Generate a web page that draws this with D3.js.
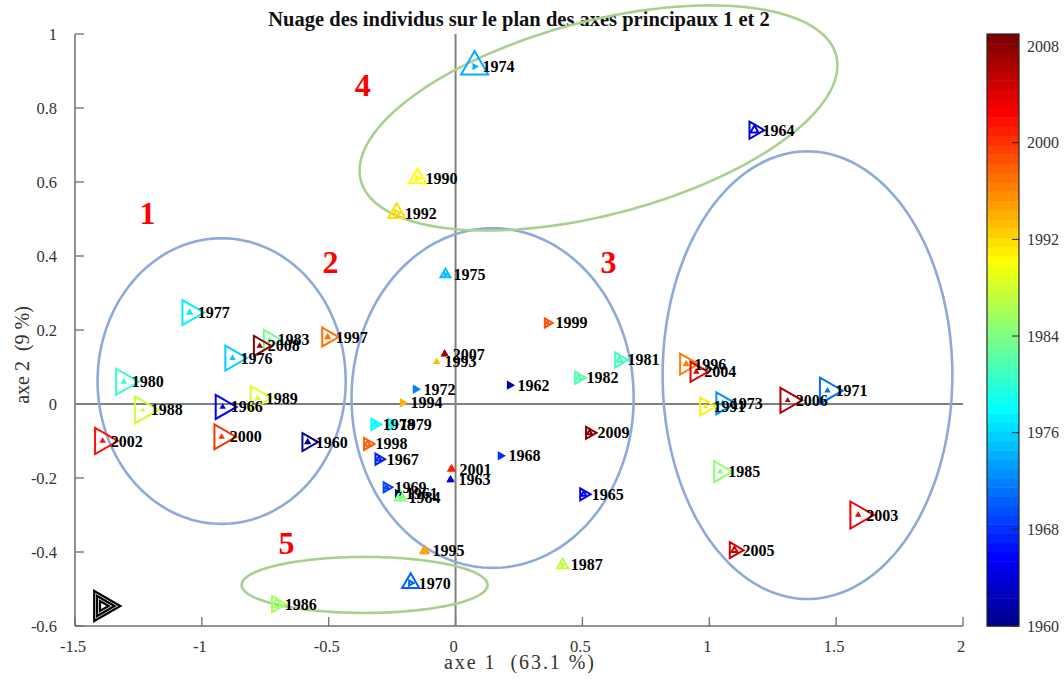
<!DOCTYPE html>
<html><head><meta charset="utf-8">
<script src="https://cdn.jsdelivr.net/npm/d3@7"></script>
<style>body{margin:0;background:#fff}svg{display:block}</style>
</head><body><svg id="c" width="1064" height="679"></svg>
<script>
// ---------- data ----------
const years = [1960,1961,1962,1963,1964,1965,1966,1967,1968,1969,
               1970,1971,1972,1973,1974,1975,1976,1977,1978,1979,
               1980,1981,1982,1983,1984,1985,1986,1987,1988,1989,
               1990,1991,1992,1993,1994,1995,1996,1997,1998,1999,
               2000,2001,2002,2003,2004,2005,2006,2007,2008,2009];
const axis1 = [-0.583,-0.228,0.213,-0.020,1.178,0.505,-0.918,-0.303,0.177,-0.272,
               -0.177,1.466,-0.158,1.053,0.075,-0.040,-0.879,-1.048,-0.319,-0.252,
               -1.308,0.646,0.485,-0.733,-0.217,1.043,-0.705,0.422,-1.233,-0.780,
               -0.150,0.985,-0.232,-0.075,-0.209,-0.122,0.909,-0.504,-0.347,0.362,
               -0.922,-0.016,-1.391,1.587,0.949,1.099,1.309,-0.043,-0.772,0.528];
const axis2 = [-0.103,-0.242,0.051,-0.205,0.740,-0.244,-0.008,-0.149,-0.140,-0.225,
               -0.484,0.036,0.040,0.002,0.912,0.350,0.124,0.247,-0.055,-0.055,
               0.060,0.119,0.071,0.173,-0.252,-0.183,-0.541,-0.435,-0.016,0.016,
               0.610,-0.007,0.516,0.114,0.003,-0.397,0.108,0.181,-0.108,0.219,
               -0.089,-0.176,-0.100,-0.300,0.087,-0.395,0.010,0.135,0.157,-0.078];
// quality of representation on axis 1 (right triangle) and axis 2 (up triangle)
const quality1 = [0.60,0.20,0.20,0.07,0.57,0.40,0.80,0.37,0.20,0.33,
                  0.17,0.87,0.20,0.73,0.13,0.10,0.83,0.83,0.37,0.37,
                  0.87,0.50,0.40,0.67,0.13,0.70,0.53,0.13,0.90,0.80,
                  0.17,0.60,0.20,0.07,0.20,0.10,0.70,0.63,0.40,0.30,
                  0.83,0.10,0.87,0.90,0.67,0.53,0.83,0.07,0.67,0.40];
const quality2 = [0.13,0.10,0.07,0.17,0.27,0.17,0.10,0.17,0.07,0.13,
                  0.57,0.10,0.07,0.10,0.90,0.33,0.10,0.13,0.17,0.17,
                  0.10,0.20,0.17,0.10,0.37,0.10,0.33,0.37,0.07,0.10,
                  0.57,0.07,0.57,0.13,0.07,0.27,0.13,0.13,0.20,0.07,
                  0.10,0.20,0.10,0.10,0.10,0.20,0.07,0.17,0.10,0.17];
// size legend (nested black right triangles)
const legendQuality = [1.0, 0.67, 0.33];
const legendPos = [-1.39, -0.546];
// group annotations
const groupLabels = ["1","2","3","4","5"];
const groupX = [-1.214,-0.493,0.603,-0.366,-0.666];
const groupY = [0.516,0.384,0.384,0.862,-0.376];
// ellipses: centre + two conjugate semi-diameters (data units)
const ellCx = [-0.922,0.146,1.387,0.5634,-0.3586];
const ellCy = [0.062,0.016,0.078,0.773,-0.489];
const ellAx = [0.489,0.556,0.571,0.9417,0.4846];
const ellAy = [0,0,0,0.1422,0];
const ellBx = [0,0,0,0,0];
const ellBy = [0.386,0.459,0.605,0.269,0.0757];
const ellKind = ["blue","blue","blue","green","green"];
// ticks
const xTicks = [-1.5,-1,-0.5,0,0.5,1,1.5,2];
const yTicks = [-0.6,-0.4,-0.2,0,0.2,0.4,0.6,0.8,1];
const cbTicks = [1960,1968,1976,1984,1992,2000,2008];
const cbDomain = [1960, 2009];
const titleText = "Nuage des individus sur le plan des axes principaux 1 et 2";
const xLabel = "axe 1  (63.1 %)";
const yLabel = "axe 2  (9 %)";

// ---------- layout ----------
const plot = {left: 75, right: 963, top: 34, bottom: 626};
const serif = "'Times New Roman','Liberation Serif',serif";
const svg = d3.select("#c");

const x = d3.scaleLinear().domain([-1.5, 2]).range([plot.left, plot.right]);
const y = d3.scaleLinear().domain([-0.6, 1]).range([plot.bottom, plot.top]);
const sz = d3.scaleLinear().domain([0, 1]).range([0, 30]);

// jet(64) colormap
function jet64() {
  const m = 64, n = 16;
  const u = [];
  for (let i = 1; i <= n; i++) u.push(i / n);
  for (let i = 1; i <= n - 1; i++) u.push(1);
  for (let i = n; i >= 1; i--) u.push(i / n);
  const J = Array.from({length: m}, () => [0, 0, 0]);
  u.forEach((v, j) => {
    const g = 8 + j + 1, r = g + n, b = g - n;
    if (r >= 1 && r <= m) J[r - 1][0] = v;
    if (g >= 1 && g <= m) J[g - 1][1] = v;
    if (b >= 1 && b <= m) J[b - 1][2] = v;
  });
  return J.map(c => d3.rgb(c[0] * 255, c[1] * 255, c[2] * 255).formatHex());
}
const cmap = jet64();
const colorOf = v => {
  let i = Math.floor((v - cbDomain[0]) / (cbDomain[1] - cbDomain[0]) * 64);
  return cmap[Math.max(0, Math.min(63, i))];
};

// triangles centred on centroid
function triRight(b) {
  const h = 0.87 * b;
  return `M${-h/3},${-b/2}L${2*h/3},0L${-h/3},${b/2}Z`;
}
function triUp(b) {
  const h = 0.87 * b;
  return `M${-b/2},${h/3}L0,${-2*h/3}L${b/2},${h/3}Z`;
}
const fmt = d => d3.format("")(d).replace("\u2212", "-");

// ---------- axes ----------
const axG = svg.append("g");
const axisColor = "#6e6e6e";
axG.append("line").attr("x1", plot.left).attr("x2", plot.right)
  .attr("y1", plot.bottom).attr("y2", plot.bottom)
  .attr("stroke", axisColor).attr("stroke-width", 1.5);
axG.append("line").attr("x1", plot.left).attr("x2", plot.left)
  .attr("y1", plot.top).attr("y2", plot.bottom)
  .attr("stroke", axisColor).attr("stroke-width", 1.5);
axG.selectAll(".xt").data(xTicks).join("line")
  .attr("x1", d => x(d)).attr("x2", d => x(d))
  .attr("y1", plot.bottom).attr("y2", plot.bottom - 9)
  .attr("stroke", axisColor).attr("stroke-width", 1.3);
axG.selectAll(".yt").data(yTicks).join("line")
  .attr("y1", d => y(d)).attr("y2", d => y(d))
  .attr("x1", plot.left).attr("x2", plot.left + 9)
  .attr("stroke", axisColor).attr("stroke-width", 1.3);
axG.selectAll(".xl").data(xTicks).join("text")
  .attr("x", d => x(d) - 2).attr("y", plot.bottom + 20)
  .attr("text-anchor", "middle").attr("dominant-baseline", "central")
  .attr("font-family", serif).attr("font-size", 16.5).attr("fill", "#333")
  .text(fmt);
axG.selectAll(".yl").data(yTicks).join("text")
  .attr("x", plot.left - 18).attr("y", d => y(d))
  .attr("text-anchor", "end").attr("dominant-baseline", "central")
  .attr("font-family", serif).attr("font-size", 16.5).attr("fill", "#333")
  .text(fmt);

// crosshair
axG.append("line").attr("x1", x(0)).attr("x2", x(0))
  .attr("y1", plot.top).attr("y2", plot.bottom)
  .attr("stroke", "#808080").attr("stroke-width", 2);
axG.append("line").attr("x1", plot.left).attr("x2", plot.right)
  .attr("y1", y(0)).attr("y2", y(0))
  .attr("stroke", "#808080").attr("stroke-width", 2);

// labels
svg.append("text").attr("x", (plot.left + plot.right) / 2).attr("y", 19)
  .attr("text-anchor", "middle").attr("dominant-baseline", "central")
  .attr("font-family", serif).attr("font-size", 20.5).attr("font-weight", "bold")
  .attr("fill", "#111").text(titleText);
svg.append("text").attr("x", (plot.left + plot.right) / 2).attr("y", 662)
  .attr("text-anchor", "middle").attr("dominant-baseline", "central")
  .style("white-space", "pre")
  .attr("textLength", 150).attr("lengthAdjust", "spacing")
  .attr("font-family", serif).attr("font-size", 20).attr("fill", "#333")
  .text(xLabel);
svg.append("text").attr("transform", `translate(22,${(plot.top + plot.bottom) / 2 + 25}) rotate(-90)`)
  .attr("text-anchor", "middle").attr("dominant-baseline", "central")
  .style("white-space", "pre")
  .attr("font-family", serif).attr("font-size", 20).attr("fill", "#333")
  .text(yLabel);

// ---------- ellipses ----------
const ellColors = {blue: "#8eaadb", green: "#a9d18e"};
const lineGen = d3.line().curve(d3.curveLinearClosed);
const ellData = ellCx.map((c, i) => i);
svg.append("g").selectAll("path").data(ellData).join("path")
  .attr("d", i => {
    const pts = d3.range(0, 180).map(k => {
      const t = k / 180 * 2 * Math.PI;
      return [x(ellCx[i] + ellAx[i] * Math.cos(t) + ellBx[i] * Math.sin(t)),
              y(ellCy[i] + ellAy[i] * Math.cos(t) + ellBy[i] * Math.sin(t))];
    });
    return lineGen(pts);
  })
  .attr("fill", "none").attr("stroke", i => ellColors[ellKind[i]]).attr("stroke-width", 2.6);

// group numbers
svg.append("g").selectAll("text").data(groupLabels).join("text")
  .attr("x", (d, i) => x(groupX[i])).attr("y", (d, i) => y(groupY[i]))
  .attr("text-anchor", "middle").attr("dominant-baseline", "central")
  .attr("font-family", serif).attr("font-size", 32).attr("font-weight", "bold")
  .attr("fill", "#ff0000").text(d => d);

// ---------- markers ----------
const idx = years.map((d, i) => i);
const mk = svg.append("g");
mk.selectAll(".r").data(idx).join("path")
  .attr("transform", i => `translate(${x(axis1[i])},${y(axis2[i])})`)
  .attr("d", i => triRight(sz(quality1[i])))
  .attr("fill", "none").attr("stroke", i => colorOf(years[i])).attr("stroke-width", 2);
mk.selectAll(".u").data(idx).join("path").attr("class", "u")
  .attr("transform", i => `translate(${x(axis1[i])},${y(axis2[i])})`)
  .attr("d", i => triUp(sz(quality2[i])))
  .attr("fill", "none").attr("stroke", i => colorOf(years[i])).attr("stroke-width", 2);

// size legend
mk.append("g").selectAll("path").data(legendQuality).join("path")
  .attr("transform", `translate(${x(legendPos[0])},${y(legendPos[1])})`)
  .attr("d", d => triRight(sz(d)))
  .attr("fill", "none").attr("stroke", "#000").attr("stroke-width", 2.2);

// point labels
svg.append("g").selectAll("text").data(idx).join("text")
  .attr("x", i => x(axis1[i]) + 8).attr("y", i => y(axis2[i]))
  .attr("dominant-baseline", "central")
  .attr("font-family", serif).attr("font-size", 16).attr("font-weight", "bold")
  .attr("fill", "#000").text(i => years[i]);

// ---------- colorbar ----------
const cb = {x: 987, w: 32};
const cy = d3.scaleLinear().domain(cbDomain).range([plot.bottom, plot.top]);
const step = (cbDomain[1] - cbDomain[0]) / 64;
const cbG = svg.append("g");
cbG.selectAll("rect").data(cmap).join("rect")
  .attr("x", cb.x)
  .attr("y", (c, i) => cy(cbDomain[0] + (i + 1) * step))
  .attr("width", cb.w)
  .attr("height", (c, i) => cy(cbDomain[0] + i * step) - cy(cbDomain[0] + (i + 1) * step) + 0.5)
  .attr("fill", c => c);
cbG.append("rect").attr("x", cb.x).attr("y", plot.top).attr("width", cb.w)
  .attr("height", plot.bottom - plot.top).attr("fill", "none")
  .attr("stroke", "#262626").attr("stroke-width", 1.2);
cbG.selectAll("line").data(cbTicks).join("line")
  .attr("x1", cb.x + cb.w).attr("x2", cb.x + cb.w - 7)
  .attr("y1", d => cy(d)).attr("y2", d => cy(d))
  .attr("stroke", "#262626").attr("stroke-width", 1);
cbG.selectAll("text").data(cbTicks).join("text")
  .attr("x", cb.x + cb.w + 8).attr("y", d => cy(d))
  .attr("dominant-baseline", "central")
  .attr("font-family", serif).attr("font-size", 16).attr("fill", "#333")
  .text(d => d);
</script></body></html>
